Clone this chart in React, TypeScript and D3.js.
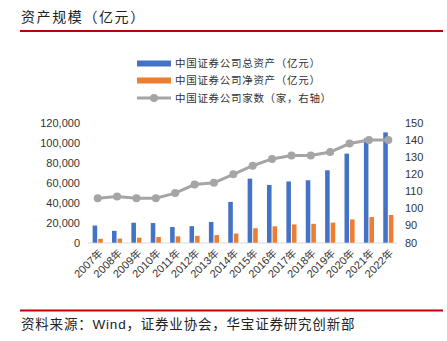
import React from "react";
import * as d3 from "d3";

const years = ["2007年","2008年","2009年","2010年","2011年","2012年","2013年","2014年","2015年","2016年","2017年","2018年","2019年","2020年","2021年","2022年"];
const totalAssets = [17200,11900,20000,19700,15700,16600,20800,40900,64200,57900,61400,62600,72600,89300,104500,110600];
const netAssets = [3900,4100,5000,5700,6400,6900,7600,9200,14500,16400,18300,18900,20100,23300,25700,27800];
const companyCount = [106,107,106,106,109,114,115,120,125,129,131,131,133,138,140,140];
const leftTicks = [0,20000,40000,60000,80000,100000,120000];
const rightTicks = [80,90,100,110,120,130,140,150];
const legendLabels = ["中国证券公司总资产（亿元）","中国证券公司净资产（亿元）","中国证券公司家数（家，右轴）"];

const W = 447, H = 341;
const BLUE = "#4472C4", ORANGE = "#ED7D31", GRAY = "#A5A5A5";
const CJK = "'Noto Sans CJK SC', sans-serif";
const NUM = "'Liberation Sans', Arial, sans-serif";

export default function App() {
  const x = d3.scaleBand<string>().domain(years).range([88, 398]).paddingInner(0).paddingOuter(0);
  const yL = d3.scaleLinear().domain([0, 120000]).range([242.7, 123]);
  const yR = d3.scaleLinear().domain([80, 150]).range([242.7, 123]);
  const bw = x.bandwidth() * 0.235;
  const gap = 1;
  const fmt = d3.format(",");
  const line = d3.line<number>()
    .x((_, i) => (x(years[i]) as number) + x.bandwidth() / 2)
    .y((d) => yR(d));

  return (
    <svg width={W} height={H} style={{ position: "absolute", left: 0, top: 0, background: "#fff" }}>
      <text x={21} y={22} fontFamily={CJK} fontSize={14} letterSpacing={1.6} fill="#222">资产规模（亿元）</text>
      <rect x={20} y={30} width={423} height={2} fill="#C00000" />

      {/* legend */}
      <rect x={137} y={60.5} width={34} height={6} fill={BLUE} />
      <rect x={137} y={77.5} width={34} height={6} fill={ORANGE} />
      <line x1={137} x2={171} y1={98} y2={98} stroke={GRAY} strokeWidth={3} />
      <circle cx={154} cy={98} r={4} fill={GRAY} />
      {legendLabels.map((t, i) => (
        <text key={t} x={175} y={63.5 + i * 17.3} dy="0.35em" fontFamily={CJK} fontSize={10.5} letterSpacing={0.7} fill="#333">{t}</text>
      ))}

      {/* axis line */}
      <line x1={88} x2={397} y1={243} y2={243} stroke="#D9D9D9" strokeWidth={1} />

      {/* left ticks */}
      {leftTicks.map((t) => (
        <text key={t} x={80} y={yL(t)} dy="0.35em" textAnchor="end" fontFamily={NUM} fontSize={11} fill="#333">{fmt(t)}</text>
      ))}
      {/* right ticks */}
      {rightTicks.map((t) => (
        <text key={t} x={405} y={yR(t)} dy="0.35em" fontFamily={NUM} fontSize={11} fill="#333">{t}</text>
      ))}

      {/* bars */}
      {years.map((yr, i) => {
        const cx = (x(yr) as number) + x.bandwidth() / 2;
        return (
          <g key={yr}>
            <rect x={cx - gap / 2 - bw} y={yL(totalAssets[i])} width={bw} height={yL(0) - yL(totalAssets[i])} fill={BLUE} />
            <rect x={cx + gap / 2} y={yL(netAssets[i])} width={bw} height={yL(0) - yL(netAssets[i])} fill={ORANGE} />
          </g>
        );
      })}

      {/* line */}
      <path d={line(companyCount) || ""} fill="none" stroke={GRAY} strokeWidth={3} />
      {companyCount.map((v, i) => (
        <circle key={i} cx={(x(years[i]) as number) + x.bandwidth() / 2} cy={yR(v)} r={4} fill={GRAY} />
      ))}

      {/* x labels */}
      {years.map((yr) => {
        const cx = (x(yr) as number) + x.bandwidth() / 2;
        return (
          <text key={yr} transform={`translate(${cx + 3},${251}) rotate(-45)`} textAnchor="end" dy="0.35em" fontFamily={NUM} fontSize={11} fill="#333">
            <tspan>{yr.slice(0, 4)}</tspan><tspan fontFamily={CJK} fontSize={10.5}>年</tspan>
          </text>
        );
      })}

      <rect x={20} y={309.5} width={423} height={2} fill="#C00000" />
      <text x={21} y={324} dy="0.35em" fontFamily={CJK} fontSize={13.5} letterSpacing={0.8} fill="#222">
        资料来源：<tspan fontFamily={NUM}>Wind</tspan>，证券业协会，华宝证券研究创新部
      </text>
    </svg>
  );
}
